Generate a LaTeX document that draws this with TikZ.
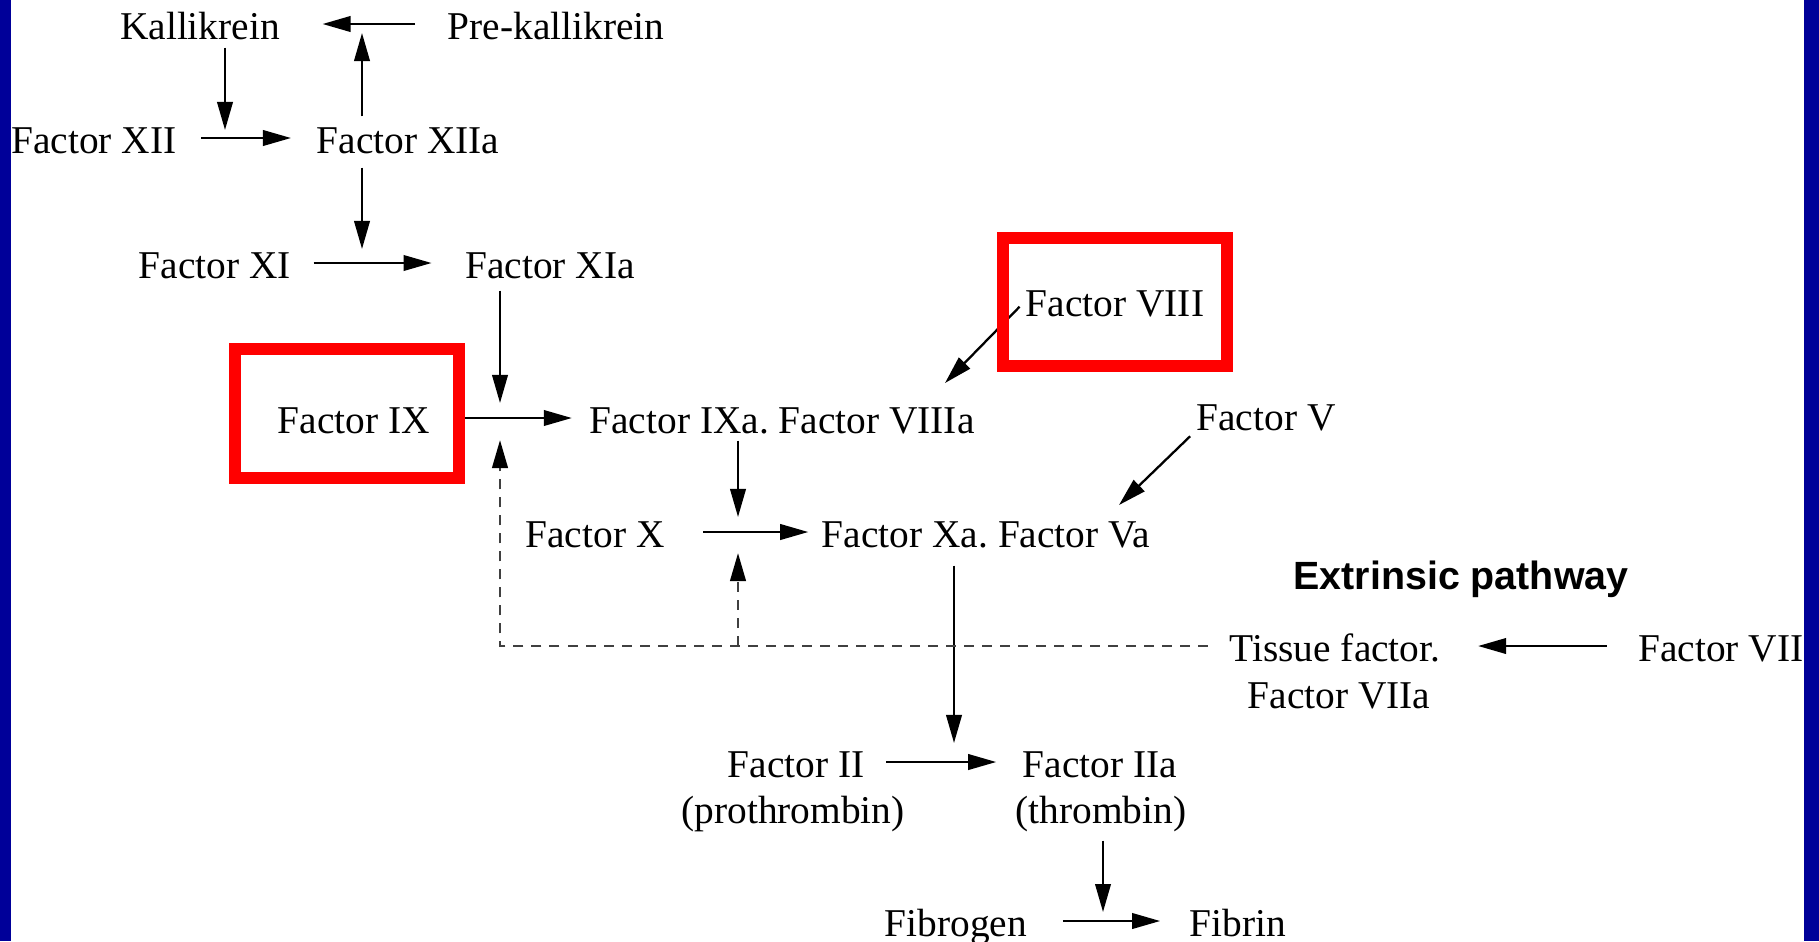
\documentclass[tikz,border=0pt]{standalone}
\usepackage{fontspec}
\setmainfont{Liberation Serif}
\setsansfont{Liberation Sans}
\usetikzlibrary{arrows.meta}
\definecolor{slideblue}{RGB}{0,0,153}
\frenchspacing

\begin{document}
\begin{tikzpicture}[x=0.01cm, y=-0.01cm,
  fac/.style={anchor=base, inner sep=0pt, text height=0.3cm, text depth=0pt,
    font=\fontsize{11.2pt}{13.3pt}\selectfont},
  arr/.style={-{Triangle[length=0.28cm, width=0.155cm, black]}, line width=0.65pt},
  dasharr/.style={arr, draw=black!75, dash pattern=on 0.1cm off 0.08cm, line width=0.75pt},
  hibox/.style={draw=red, line width=0.12cm, minimum width=2.24cm, minimum height=1.28cm, inner sep=0pt}]
  % Fundo
  \useasboundingbox (0,0) rectangle (1819,941);
  \fill[white] (0,0) rectangle (1819,941);

  % Fatores
  \node[fac] (kal) at (200,39) {Kallikrein};
  \node[fac] (prekal) at (556,39) {Pre-kallikrein};
  \node[fac] (f12) at (94,153) {Factor XII};
  \node[fac] (f12a) at (408,153) {Factor XIIa};
  \node[fac] (f11) at (215,278) {Factor XI};
  \node[fac] (f11a) at (550,278) {Factor XIa};
  \node[fac] (f8) at (1115,316) {Factor VIII};
  \node[fac] (f9) at (354,433) {Factor IX};
  \node[fac] (f9a8a) at (782,433) {Factor IXa. Factor VIIIa};
  \node[fac] (f5) at (1266,430) {Factor V};
  \node[fac] (f10) at (595,547) {Factor X};
  \node[fac] (f10a5a) at (986,547) {Factor Xa. Factor Va};
  \node[fac, font=\fontsize{11.2pt}{13.3pt}\sffamily\bfseries] (extr) at (1461,589) {Extrinsic pathway};
  \node[fac] (tf) at (1335,661) {Tissue factor.};
  \node[fac] (f7a) at (1339,708) {Factor VIIa};
  \node[fac] (f7) at (1721,661) {Factor VII};
  \node[fac] (f2) at (796,777) {Factor II};
  \node[fac] (f2b) at (793,823) {(prothrombin)};
  \node[fac] (f2a) at (1100,777) {Factor IIa};
  \node[fac] (f2ab) at (1101,823) {(thrombin)};
  \node[fac] (fbg) at (956,936) {Fibrogen};
  \node[fac] (fbn) at (1238,936) {Fibrin};

  % Pontos de encontro
  \coordinate (j0) at (362,0 |- kal);
  \coordinate (j1) at (225,0 |- f12);
  \coordinate (j2) at (362,0 |- f11);
  \coordinate (j3) at (500,0 |- f9);
  \coordinate (j4) at (738,0 |- f10);
  \coordinate (j5) at (954,0 |- f2);
  \coordinate (j6) at (1103,0 |- fbg);
  \coordinate (t8) at (945,383);
  \coordinate (t5) at (1119,505);

  % Setas
  \draw[arr, shorten <=0.32cm, shorten >=0.42cm] (prekal) -- (kal);
  \draw[arr, shorten <=0.24cm, shorten >=0.25cm] (f12) -- (f12a);
  \draw[arr, shorten <=0.22cm, shorten >=0.33cm] (f11) -- (f11a);
  \draw[arr, shorten <=0.33cm, shorten >=0.17cm] (f9) -- (f9a8a);
  \draw[arr, shorten <=0.38cm, shorten >=0.13cm] (f10) -- (f10a5a);
  \draw[arr, shorten <=0.21cm, shorten >=0.26cm] (f2) -- (f2a);
  \draw[arr, shorten <=0.35cm, shorten >=0.29cm] (fbg) -- (fbn);
  \draw[arr, shorten <=0.31cm, shorten >=0.37cm] (f7) -- (tf);

  \draw[arr, shorten <=0.08cm, shorten >=0.08cm] (kal.south -| j1) -- (j1);
  \draw[arr, shorten <=0.06cm, shorten >=0.09cm] (f12a.north -| j0) -- (j0);
  \draw[arr, shorten <=0.14cm, shorten >=0.14cm] (f12a.south -| j2) -- (j2);
  \draw[arr, shorten <=0.12cm, shorten >=0.15cm] (f11a.south -| j3) -- (j3);
  \draw[arr, shorten <=0.07cm, shorten >=0.15cm] (f9a8a.south -| j4) -- (j4);
  \draw[arr, shorten <=0.18cm, shorten >=0.19cm] (f10a5a.south -| j5) -- (j5);
  \draw[arr, shorten <=0.17cm, shorten >=0.09cm] (f2ab.south -| j6) -- (j6);
  \draw[arr, shorten <=0.08cm] (f8.west) -- (t8);
  \draw[arr, shorten <=0.08cm] (f5.south west) -- (t5);

  % Via extrínseca (tracejado)
  \draw[dasharr, shorten <=0.21cm, shorten >=0.22cm] (tf) -- (j3 |- tf) -- (j3);
  \draw[dasharr, shorten >=0.21cm] (j4 |- tf) -- (j4);

  % Destaques
  \node[hibox] (box9) at (347,413.5) {};
  \node[hibox] (box8) at (1115,302) {};

  % Bordas
  \fill[slideblue] (0,0) rectangle (11,941);
  \fill[slideblue] (1804,0) rectangle (1819,941);
\end{tikzpicture}
\end{document}
